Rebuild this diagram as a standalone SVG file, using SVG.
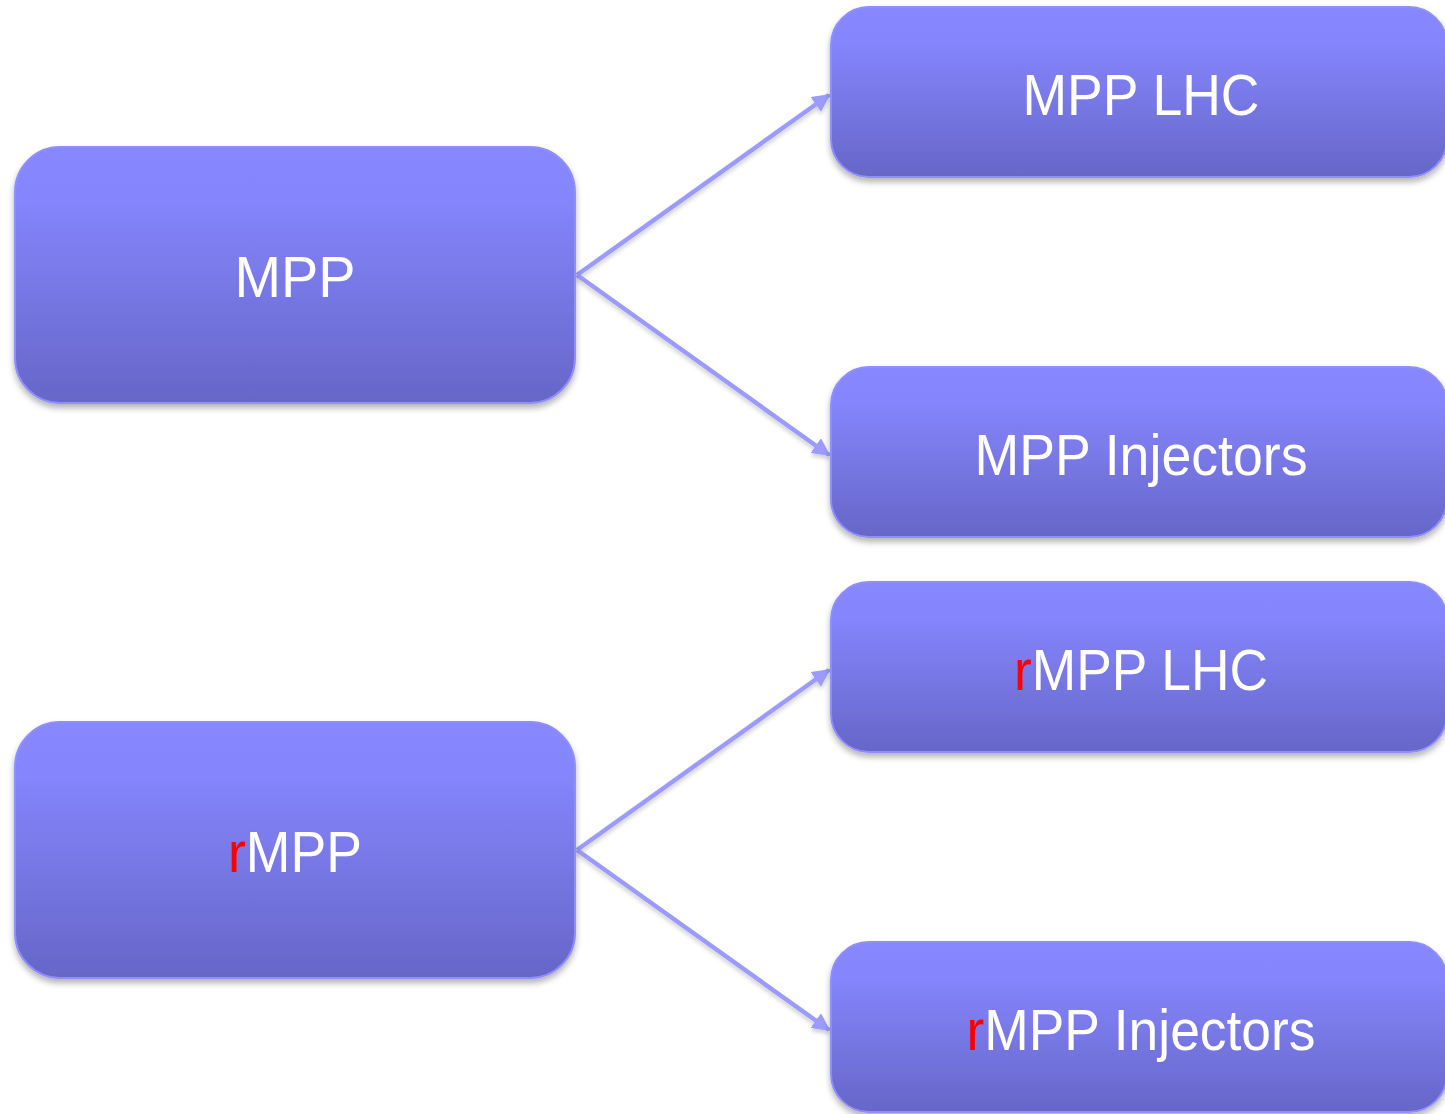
<svg xmlns="http://www.w3.org/2000/svg" width="1445" height="1114" viewBox="0 0 1445 1114">
<defs>
<linearGradient id="g" x1="0" y1="0" x2="0" y2="1">
<stop offset="0" stop-color="#8787FF"/>
<stop offset="0.2" stop-color="#8585FD"/>
<stop offset="1" stop-color="#6666C8"/>
</linearGradient>
<filter id="sh" x="-10%" y="-10%" width="120%" height="130%">
<feDropShadow dx="0" dy="4" stdDeviation="3" flood-color="#000" flood-opacity="0.3"/>
</filter>
<filter id="lsh" x="-10%" y="-10%" width="120%" height="130%">
<feDropShadow dx="0" dy="3" stdDeviation="2" flood-color="#000" flood-opacity="0.2"/>
</filter>
<marker id="arr" viewBox="0 0 10 10" refX="9" refY="5" markerWidth="4" markerHeight="4" orient="auto" markerUnits="strokeWidth">
<path d="M0,0 L10,5 L0,10 z" fill="#9B9BFF"/>
</marker>
<style>
.box{fill:url(#g);stroke:#8E8EFF;stroke-width:2;filter:url(#sh)}
.t{font-family:"Liberation Sans",Arial,sans-serif;font-size:58px;fill:#FFFFFF;text-anchor:middle}
.r{fill:#FF0000}
.c{stroke:#9B9BFF;stroke-width:4.5;fill:none;marker-end:url(#arr);filter:url(#lsh)}
</style>
</defs>
<rect width="1445" height="1114" fill="#FFFFFF"/>
<g id="connectors">
<line class="c" x1="577" y1="275" x2="829" y2="95"/>
<line class="c" x1="577" y1="275" x2="829" y2="455"/>
<line class="c" x1="577" y1="850" x2="829" y2="670"/>
<line class="c" x1="577" y1="850" x2="829" y2="1030"/>
</g>
<g id="node-mpp">
<rect class="box" x="15" y="147" width="560" height="256" rx="45"/>
<text class="t" x="295" y="297" textLength="121" lengthAdjust="spacingAndGlyphs">MPP</text>
</g>
<g id="node-mpp-lhc">
<rect class="box" x="831" y="7" width="616" height="170" rx="38"/>
<text class="t" x="1141" y="115" textLength="237" lengthAdjust="spacingAndGlyphs">MPP LHC</text>
</g>
<g id="node-mpp-injectors">
<rect class="box" x="831" y="367" width="616" height="170" rx="38"/>
<text class="t" x="1141" y="475" textLength="333" lengthAdjust="spacingAndGlyphs">MPP Injectors</text>
</g>
<g id="node-rmpp">
<rect class="box" x="15" y="722" width="560" height="256" rx="45"/>
<text class="t" x="295" y="872" textLength="134" lengthAdjust="spacingAndGlyphs"><tspan class="r">r</tspan>MPP</text>
</g>
<g id="node-rmpp-lhc">
<rect class="box" x="831" y="582" width="616" height="170" rx="38"/>
<text class="t" x="1141" y="690" textLength="254" lengthAdjust="spacingAndGlyphs"><tspan class="r">r</tspan>MPP LHC</text>
</g>
<g id="node-rmpp-injectors">
<rect class="box" x="831" y="942" width="616" height="170" rx="38"/>
<text class="t" x="1141" y="1050" textLength="349" lengthAdjust="spacingAndGlyphs"><tspan class="r">r</tspan>MPP Injectors</text>
</g>
</svg>
